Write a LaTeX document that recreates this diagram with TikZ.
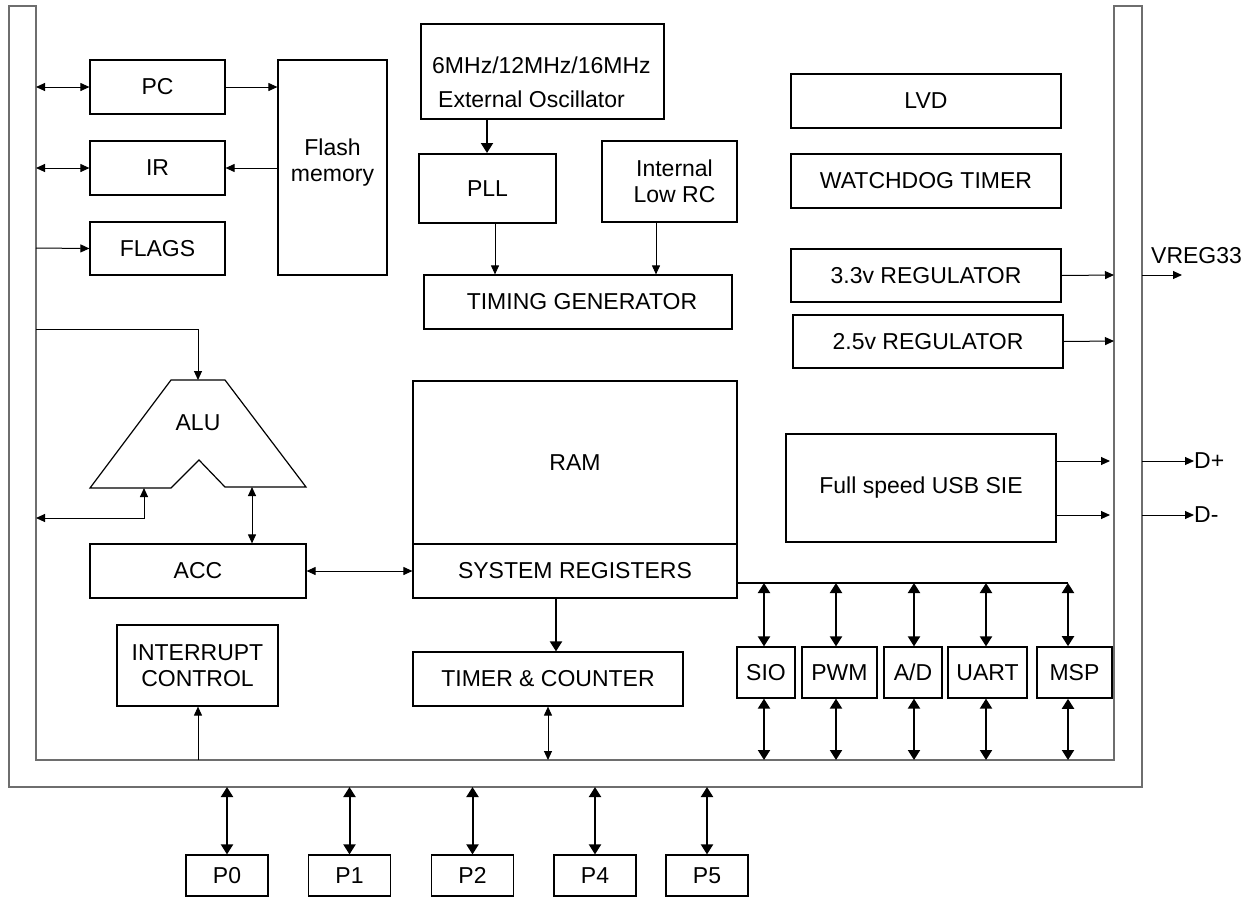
\documentclass[tikz,border=0pt]{standalone}
\usepackage{fontspec}
\setmainfont{Liberation Sans}
\usetikzlibrary{arrows.meta,calc}
\newcommand\dgfont{\fontsize{23}{26}\selectfont}
\definecolor{busgray}{RGB}{110,110,110}
\begin{document}
\begin{tikzpicture}[x=1pt,y=-1pt,
  blk/.style={draw=black, line width=1.2pt, rectangle, inner sep=0pt, align=center, font=\dgfont},
  txt/.style={inner sep=0pt, font=\dgfont},
  thin/.style={line width=1pt, -{Triangle[length=9pt,width=8pt]}},
  thinb/.style={line width=1pt, {Triangle[length=9pt,width=8pt]}-{Triangle[length=9pt,width=8pt]}},
  thick/.style={line width=2pt, -{Triangle[length=10pt,width=12pt]}},
  thickb/.style={line width=2pt, {Triangle[length=10pt,width=12pt]}-{Triangle[length=10pt,width=12pt]}},
  bus/.style={draw=busgray, line width=1.4pt, line join=miter}
]
\useasboundingbox (0,0) rectangle (1251,898);

% system bus (U shape)
\draw[bus] (9,6) -- (36,6) -- (36,760) -- (1114,760) -- (1114,6) -- (1142,6) -- (1142,787) -- (9,787) -- cycle;

% left column
\node[blk, minimum width=135pt, minimum height=54pt] (pc) at (157.5,87) {PC};
\node[blk, minimum width=135pt, minimum height=54pt] (ir) at (157.5,168) {IR};
\node[blk, minimum width=135pt, minimum height=53pt] (flags) at (157.5,248.5) {FLAGS};
\node[blk, minimum width=109pt, minimum height=215pt] (flash) at (332.5,167.5) {Flash\\memory\\[-12pt]};

% clock section
\node[blk, minimum width=243pt, minimum height=95pt] (osc) at (542.5,71.5) {};
\node[txt, anchor=west, align=left, font=\fontsize{23}{34}\selectfont] (osct) at (432,82) {6MHz/12MHz/16MHz\\\hspace*{6pt}External Oscillator};
\node[blk, line width=2pt, minimum width=137pt, minimum height=69pt] (pll) at (487.5,188.5) {PLL};
\node[blk, minimum width=135pt, minimum height=81pt] (rc) at (669.5,181.5) {\hspace*{10pt}Internal\\\hspace*{10pt}Low RC};
\node[blk, minimum width=308pt, minimum height=54pt] (tg) at (578,302) {\hspace*{8pt}TIMING GENERATOR};

% memory & registers
\node[blk, minimum width=324pt, minimum height=163pt] (ram) at (575,462.5) {RAM};
\node[blk, minimum width=324pt, minimum height=54pt] (sys) at (575,571) {SYSTEM REGISTERS};
\node[blk, minimum width=270pt, minimum height=54pt] (tmr) at (548,679) {TIMER \& COUNTER};
\node[blk, minimum width=161pt, minimum height=81pt] (int) at (197.5,665.5) {INTERRUPT\\CONTROL};
\node[blk, minimum width=216pt, minimum height=54pt] (acc) at (198,571) {ACC};

% ALU
\draw[line width=1.2pt, line join=miter] (171,380) -- (225,380) -- (306,487) -- (225,487) -- (199,460) -- (171,488) -- (90,488) -- cycle;
\node[txt] (alu) at (198,423) {ALU};
\coordinate (aluT) at (198,380);
\coordinate (aluBL) at (144,488);
\coordinate (aluBR) at (252,487);

% peripherals
\node[blk, minimum width=58pt, minimum height=51pt] (sio) at (766,672.5) {SIO};
\node[blk, minimum width=75pt, minimum height=51pt] (pwm) at (839.5,672.5) {PWM};
\node[blk, minimum width=58pt, minimum height=51pt] (ad) at (913,672.5) {A/D};
\node[blk, minimum width=79pt, minimum height=51pt] (uart) at (987.5,672.5) {UART};
\node[blk, line width=1.6pt, minimum width=75pt, minimum height=51pt] (msp) at (1074.5,672.5) {MSP};

% right column
\node[blk, minimum width=270pt, minimum height=54pt] (lvd) at (926,101) {LVD};
\node[blk, minimum width=270pt, minimum height=54pt] (wdt) at (926,181) {WATCHDOG TIMER};
\node[blk, minimum width=270pt, minimum height=53pt] (r33) at (926,275.5) {3.3v REGULATOR};
\node[blk, minimum width=270pt, minimum height=53pt] (r25) at (928,341.5) {2.5v REGULATOR};
\node[blk, minimum width=270pt, minimum height=108pt] (usb) at (921,488) {Full speed USB SIE};

% ports
\foreach \n/\x in {P0/227,P1/349.5,P2/472.5,P4/595,P5/707}{
  \node[blk, minimum width=82pt, minimum height=41pt] (\n) at (\x,875.5) {\n};
}

% external labels
\node[txt, anchor=base west] (vreg) at (1151,263) {VREG33};
\node[txt, anchor=west] (dp) at (1194,461) {D+};
\node[txt, anchor=west] (dm) at (1194,515) {D-};

% bus coordinates
\coordinate (bPC) at (36,87);
\coordinate (bIR) at (36,168);
\coordinate (bFL) at (36,248);
\coordinate (bALU) at (36,329);
\coordinate (bALU2) at (36,518);
\coordinate (bINT) at (198,760);
\coordinate (bTMR) at (548,760);
\coordinate (rb33) at (1114,275);
\coordinate (rb25) at (1114,341);
\coordinate (rbdp) at (1110,461);
\coordinate (rbdm) at (1110,515);
\coordinate (ob33) at (1142,275);
\coordinate (obdp) at (1142,461);
\coordinate (obdm) at (1142,515);
\coordinate (pb0) at (737,583);
\coordinate (pb1) at (1068,583);

% left connectors
\draw[thinb] (bPC) -- (pc.west);
\draw[thinb] (bIR) -- (ir.west);
\draw[thin] (bFL) -- (flags.west);
\draw[thin] (pc.east) -- (flash.west |- pc.east);
\draw[thin] (flash.west |- ir.east) -- (ir.east);
\draw[thin] (bALU) -| (aluT);
\draw[thinb] (bALU2) -| (aluBL);
\draw[thinb] (aluBR) -- (acc.north -| aluBR);
\draw[thinb] (acc.east) -- (sys.west);

% clock connectors
\draw[thick] (osc.south -| 487,0) -- (pll.north -| 487,0);
\draw[thin] (pll.south -| 495,0) -- (tg.north -| 495,0);
\draw[thin] (rc.south -| 656,0) -- (tg.north -| 656,0);

% system registers
\draw[thick] (sys.south -| 556,0) -- (tmr.north -| 556,0);
\draw[thinb] (tmr.south -| bTMR) -- (bTMR);
\draw[thin] (bINT) -- (int.south -| bINT);

% peripheral bus
\draw[line width=2pt] (pb0) -- (pb1);
\foreach \p/\x in {sio/764,pwm/836,ad/914,uart/986,msp/1068}{
  \draw[thickb] (\x,583) -- (\p.north -| \x,0);
  \draw[thickb] (\p.south -| \x,0) -- (\x,760);
}

% right connectors
\draw[thin] (r33.east) -- (rb33);
\draw[thin] (r25.east) -- (rb25);
\draw[thin] (usb.east |- rbdp) -- (rbdp);
\draw[thin] (usb.east |- rbdm) -- (rbdm);
\draw[thin] (ob33) -- (1182,275);
\draw[thin] (obdp) -- (dp.west);
\draw[thin] (obdm) -- (dm.west);

% port connectors
\foreach \n/\x in {P0/227,P1/349.5,P2/472.5,P4/595,P5/707}{
  \draw[thickb] (\x,787) -- (\n.north);
}
\end{tikzpicture}
\end{document}
